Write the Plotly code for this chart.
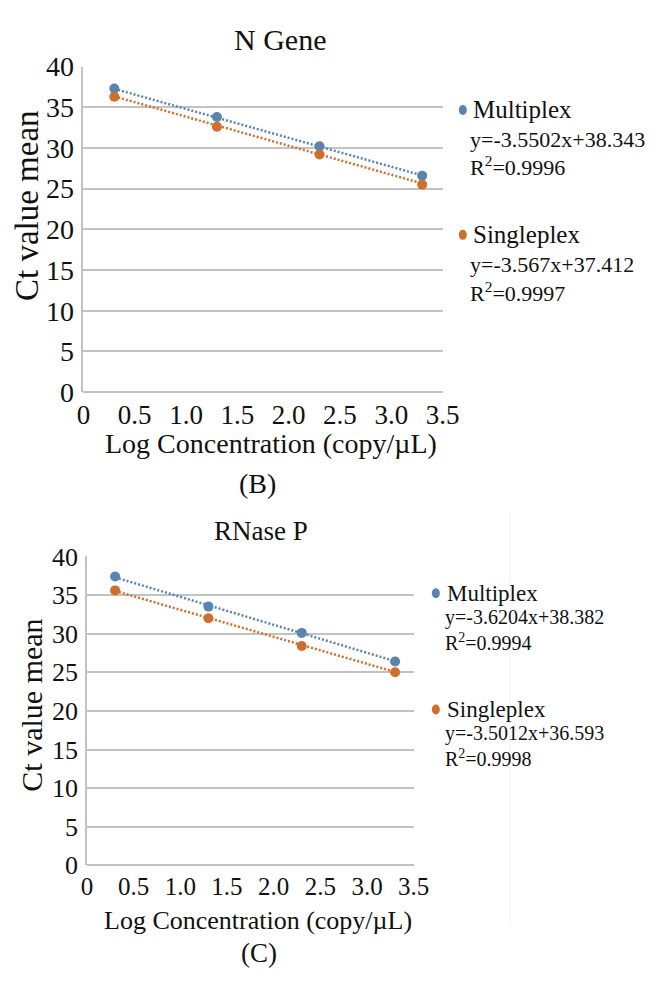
import numpy as np
import plotly.graph_objects as go

# ---------------- data ----------------
log_conc = [0.301, 1.301, 2.301, 3.301]

n_multiplex = [37.3, 33.8, 30.2, 26.6]
n_singleplex = [36.3, 32.6, 29.2, 25.5]

r_multiplex = [37.4, 33.5, 30.1, 26.4]
r_singleplex = [35.6, 32.0, 28.4, 25.0]

series_names = ["Multiplex", "Singleplex"]
n_slopes = [-3.5502, -3.567]
n_intercepts = [38.343, 37.412]
n_r2 = ["0.9996", "0.9997"]
r_slopes = [-3.6204, -3.5012]
r_intercepts = [38.382, 36.593]
r_r2 = ["0.9994", "0.9998"]

x_tickvals = [0, 0.5, 1.0, 1.5, 2.0, 2.5, 3.0, 3.5]
x_ticktext = ["0", "0.5", "1.0", "1.5", "2.0", "2.5", "3.0", "3.5"]
y_tickvals = [0, 5, 10, 15, 20, 25, 30, 35, 40]

panel_titles = ["N Gene", "RNase P"]
panel_labels = ["(B)", "(C)"]
x_title = "Log Concentration (copy/µL)"
y_title = "Ct value mean"

# ---------------- style ----------------
W, H = 661, 985
FONT = "'Liberation Serif', 'Times New Roman', 'DejaVu Serif', serif"
BLUE = "#5A84B0"
ORANGE = "#D06E2C"
GRID = "#C2C2C2"
TXT = "#111111"
colors = [BLUE, ORANGE]


def px(x):
    return x / W


def py(y):
    return 1 - y / H


fig = go.Figure()

panels = [
    dict(xa="x", ya="y", data=[n_multiplex, n_singleplex], slopes=n_slopes,
         inter=n_intercepts, r2=n_r2),
    dict(xa="x2", ya="y2", data=[r_multiplex, r_singleplex], slopes=r_slopes,
         inter=r_intercepts, r2=r_r2),
]

for p in panels:
    for i, name in enumerate(series_names):
        xs = np.array([log_conc[0], log_conc[-1]])
        ys = p["slopes"][i] * xs + p["inter"][i]
        fig.add_trace(go.Scatter(
            x=xs, y=ys, mode="lines", xaxis=p["xa"], yaxis=p["ya"],
            line=dict(color=colors[i], width=2.5, dash="2px,2px"),
            showlegend=False, hoverinfo="skip"))
    for i, name in enumerate(series_names):
        fig.add_trace(go.Scatter(
            x=log_conc, y=p["data"][i], mode="markers", name=name,
            xaxis=p["xa"], yaxis=p["ya"],
            marker=dict(color=colors[i], size=10),
            showlegend=False))

axis_common = dict(range=[0, 3.5], tickvals=x_tickvals, ticktext=x_ticktext,
                   showgrid=False, zeroline=False, showline=False,
                   ticks="", fixedrange=True)
yaxis_common = dict(range=[0, 40], tickvals=y_tickvals, showgrid=True,
                    gridcolor=GRID, gridwidth=1.6, zeroline=True,
                    zerolinecolor=GRID, zerolinewidth=1.6,
                    showline=True, linecolor=GRID, linewidth=1.6,
                    ticks="", fixedrange=True)

fig.update_layout(
    width=W, height=H,
    margin=dict(l=0, r=0, t=0, b=0),
    paper_bgcolor="white", plot_bgcolor="white",
    showlegend=False,
    font=dict(family=FONT, color=TXT),
    xaxis=dict(domain=[px(79.3), px(452)], anchor="y",
               tickfont=dict(size=27, family=FONT, color=TXT),
               ticklabelstandoff=4, **axis_common),
    yaxis=dict(domain=[py(389.3), py(53.3)], anchor="x",
               tickfont=dict(size=28, family=FONT, color=TXT),
               ticklabelstandoff=2, **yaxis_common),
    xaxis2=dict(domain=[px(83), px(422)], anchor="y2",
                tickfont=dict(size=25, family=FONT, color=TXT),
                ticklabelstandoff=4, **axis_common),
    yaxis2=dict(domain=[py(878), py(559)], anchor="x2",
                tickfont=dict(size=26, family=FONT, color=TXT),
                ticklabelstandoff=2, **yaxis_common),
)

ann = []
shapes = []


def text(x, y, s, size, anchor="center", angle=0):
    ann.append(dict(x=px(x), y=py(y), xref="paper", yref="paper", text=s,
                    showarrow=False, xanchor=anchor, yanchor="middle",
                    textangle=angle, font=dict(size=size, family=FONT,
                                               color=TXT)))


def dot(x, y, color):
    shapes.append(dict(type="circle", xref="paper", yref="paper",
                       xsizemode="pixel", ysizemode="pixel",
                       xanchor=px(x), yanchor=py(y),
                       x0=-4, x1=4, y0=-5, y1=5,
                       fillcolor=color, line=dict(width=0)))


# top panel texts
text(283, 25, panel_titles[0], 30)
text(21, 197, y_title, 33, angle=-90)
text(274, 442, x_title, 28)
text(260, 484, panel_labels[0], 28)
leg_top = [(98, 129, 156), (227, 258, 286)]
for i, name in enumerate(series_names):
    yn, ye, yr = leg_top[i]
    dot(473, yn, colors[i])
    text(481, yn, name, 25, anchor="left")
    sign = "+" if n_intercepts[i] >= 0 else "-"
    text(478, ye, f"y={n_slopes[i]}x{sign}{abs(n_intercepts[i])}", 22, anchor="left")
    text(478, yr, f"R<sup>2</sup>={n_r2[i]}", 22, anchor="left")

# bottom panel texts
text(264, 533, panel_titles[1], 27)
text(25, 713, y_title, 30, angle=-90)
text(260, 935, x_title, 26)
text(261, 968, panel_labels[1], 27)
leg_bot = [(597, 622, 647), (717, 742, 767)]
for i, name in enumerate(series_names):
    yn, ye, yr = leg_bot[i]
    dot(445, yn, colors[i])
    text(454, yn, name, 23, anchor="left")
    sign = "+" if r_intercepts[i] >= 0 else "-"
    text(452, ye, f"y={r_slopes[i]}x{sign}{abs(r_intercepts[i])}", 20, anchor="left")
    text(452, yr, f"R<sup>2</sup>={r_r2[i]}", 20, anchor="left")

# faint frame line at right of lower panel
shapes.append(dict(type="line", xref="paper", yref="paper",
                   x0=px(522), x1=px(522), y0=py(513), y1=py(937),
                   line=dict(color="#F2F2F2", width=1)))

fig.update_layout(annotations=ann, shapes=shapes)

fig.write_html("out.html")
